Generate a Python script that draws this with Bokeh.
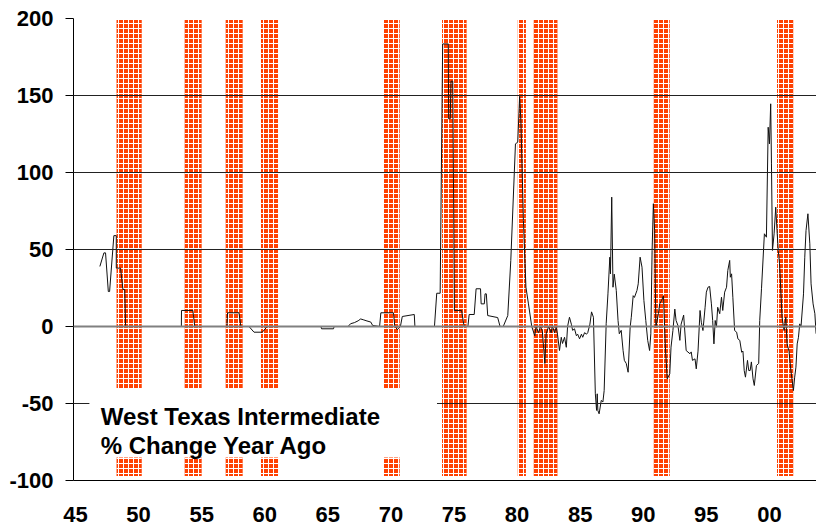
from bokeh.plotting import figure
from bokeh.models import Range1d, FixedTicker, Span, BoxAnnotation, Label
from bokeh.embed import file_html
from bokeh.resources import INLINE

# Recession periods (years since 1900)
rec_start = [48.25, 53.65, 56.9, 59.7, 69.45, 74.05, 80.05, 81.3, 90.8, 100.6]
rec_end   = [50.25, 55.0, 58.25, 61.05, 70.7, 76.0, 80.7, 83.2, 92.1, 101.9]

# WTI % change year ago
years = [46.93, 47.25, 47.38, 47.6, 47.7, 48.04, 48.23, 48.23, 48.57, 48.76, 48.9, 48.97,
         53.39, 53.4, 54.3, 54.45, 57.0, 57.05, 57.96, 58.1, 58.75, 59.15, 59.8, 60.2,
         64.45, 64.5, 65.45, 65.5, 66.6, 66.8, 67.1, 67.4, 67.6, 67.8, 68.1, 68.4, 68.55,
         69.1, 69.2, 70.2, 70.3, 70.5, 70.75, 70.9, 71.85, 71.9, 73.45, 73.63, 73.9,
         74.1, 74.55, 74.57, 74.7, 74.76, 74.9, 75.03, 75.6, 75.8, 76.1, 76.2, 76.6,
         76.75, 77.1, 77.15, 77.4, 77.46, 77.56, 77.67, 78.46, 78.65, 78.9, 79.26, 79.5,
         79.87, 80.05, 80.2, 80.3, 80.5, 80.7, 80.9, 81.16, 81.4, 81.5, 81.7, 81.85,
         82.0, 82.2, 82.3, 82.5, 82.7, 82.8, 82.96, 83.1, 83.2, 83.36, 83.5, 83.6,
         83.76, 83.9, 84.0, 84.15, 84.3, 84.4, 84.55, 84.7, 84.8, 84.95, 85.1, 85.2,
         85.35, 85.5, 85.6, 85.77, 85.9, 86.05, 86.2, 86.3, 86.35, 86.4, 86.5, 86.67,
         86.8, 86.9, 87.06, 87.2, 87.35, 87.4, 87.5, 87.6, 87.7, 87.86, 88.0, 88.1,
         88.25, 88.4, 88.5, 88.65, 88.8, 88.96, 89.05, 89.2, 89.3, 89.5, 89.6, 89.75,
         89.9, 90.05, 90.2, 90.35, 90.5, 90.6, 90.7, 90.8, 90.9, 91.0, 91.2, 91.3,
         91.45, 91.6, 91.75, 91.9, 92.1, 92.2, 92.35, 92.5, 92.6, 92.75, 92.9, 93.0,
         93.2, 93.4, 93.7, 93.8, 93.9, 94.1, 94.2, 94.34, 94.5, 94.6, 94.73, 94.9,
         95.0, 95.13, 95.26, 95.4, 95.5, 95.6, 95.7, 95.8, 95.9, 96.06, 96.2, 96.3,
         96.45, 96.6, 96.7, 96.85, 96.9, 97.0, 97.1, 97.24, 97.4, 97.5, 97.65, 97.8,
         97.9, 98.0, 98.1, 98.26, 98.36, 98.47, 98.57, 98.7, 98.8, 98.97, 99.15, 99.23,
         99.37, 99.6, 99.76, 99.9, 100.0, 100.1, 100.16, 100.24, 100.37, 100.5, 100.6,
         100.7, 100.8, 100.9, 101.0, 101.16, 101.3, 101.4, 101.55, 101.7, 101.8, 101.9,
         102.0, 102.1, 102.2, 102.3, 102.4, 102.5, 102.7, 102.8, 102.9, 103.05, 103.2,
         103.3, 103.46, 103.6, 103.7]
pct = [39, 47.8, 47.8, 22.7, 22.7, 59, 59, 37.9, 37.9, 24, 24, 0,
       0, 10.4, 10.4, 0, 0, 8.9, 8.9, 0, 0, -3.7, -3.7, 0,
       0, -1.5, -1.5, 0, 0, 1.8, 2.5, 3.7, 4.9, 4.4, 3.6, 2.9, 0.7,
       0, 8.9, 8.9, 0.5, -2, 0, 6.5, 7.8, 0, 0, 21.6, 21.6,
       183.5, 183.5, 134.9, 134.9, 159.3, 159.3, 10.4, 10.4, 0, 0, 7.8, 7.8,
       24.5, 24.5, 14.7, 14.7, 21.2, 21.2, 7.1, 5.8, 0, 0, 7.1, 42.9,
       118.6, 119.7, 149.4, 133.8, 68.8, 25.5, 14.7, 0, -6, 0, -4, 0,
       -3, -24, -4.8, 0, -4, 0.5, -4, -0.5, -5, -15.6, -7, -11,
       -7, -13.5, 0, 6, 1.5, -2.5, -1.5, -6, -5, -8, -5, -7,
       -4, -5, -4, 1.5, 9.5, 6, -43.7, -54.5, -43.7, -54.5, -56.7, -48,
       -49, -41.6, 1.8, 21.2, 45, 34.2, 84, 25.5, 34, 23.4, 3.9, -4.7,
       -2.5, -15.6, -22, -24, -29.7, -0.4, 6, 20, 18.9, 23.4, 27.7, 45,
       38.5, 16.9, 3.9, -9, -15.6, -4.7, 49.4, 79.7, 62.3, -0.4, 8.3, 14.7,
       16.9, 20, -13.4, -34, -30.7, -13.4, -2.6, 11.3, 3.9, 0.6, -9, 1.5,
       7.4, -15.6, -17.7, -16.5, -22, -21, -27.5, -16, 10.4, 2.8, -2.6, 12.5,
       22.3, 25.5, 26, 14.7, 3.9, -11.3, 3.9, -0.4, 12.5, 8.3, 19, 10.4,
       22.3, 25.5, 36.4, 42.9, 32, 34.2, 19, -2.6, -3.7, -8, -9, -16.7,
       -16, -28.6, -32.9, -22, -28.6, -28.6, -23, -34, -38.3, -25.3, -24, 3.9,
       24.5, 60.2, 58, 129.4, 118.6, 144.6, 105.6, 49.4, 60.2, 77.5, 62.3,
       49.4, 40.7, 23.4, 6, -2.6, 6, -11.3, -16, -28.6, -35, -41.6,
       -32.9, -26.4, -11.3, -7, 1.7, -0.4, 21.2, 45, 62.3, 73.2, 53.7,
       27.7, 14.7, 8.3, -4.7]

x_ticks = [45, 50, 55, 60, 65, 70, 75, 80, 85, 90, 95, 100]
x_labels = ["45", "50", "55", "60", "65", "70", "75", "80", "85", "90", "95", "00"]
y_ticks = [-100, -50, 0, 50, 100, 150, 200]
y_labels = ["-100", "-50", "0", "50", "100", "150", "200"]
title_lines = ["West Texas Intermediate", "% Change Year Ago"]

FONT = "Liberation Sans"

p = figure(width=816, height=532, output_backend="svg", toolbar_location=None,
           x_range=Range1d(44.84, 103.73), y_range=Range1d(-100, 200),
           min_border_left=73, min_border_right=0, min_border_top=18, min_border_bottom=52)
p.outline_line_color = None
p.background_fill_color = "white"

# recession bars
p.quad(left=rec_start, right=rec_end, bottom=-97, top=199,
       fill_color="#FF4000", line_color=None,
       hatch_pattern="cross", hatch_color="white", hatch_scale=5, hatch_weight=1, hatch_alpha=1.0)

# data line
p.line(years, pct, line_color="#111111", line_width=1)

# axes
p.xaxis.ticker = FixedTicker(ticks=x_ticks)
p.xaxis.major_label_overrides = {t: l for t, l in zip(x_ticks, x_labels)}
p.xaxis.major_tick_out = 0
p.xaxis.major_tick_in = 0
p.xaxis.minor_tick_out = 0
p.xaxis.minor_tick_in = 0
p.xaxis.axis_line_color = "black"
p.xaxis.major_label_standoff = 26
p.yaxis.ticker = FixedTicker(ticks=y_ticks)
p.yaxis.major_label_overrides = {t: l for t, l in zip(y_ticks, y_labels)}
p.yaxis.major_tick_out = 8
p.yaxis.major_tick_in = 0
p.yaxis.minor_tick_out = 0
p.yaxis.minor_tick_in = 0
p.yaxis.axis_line_color = "black"
p.yaxis.major_tick_line_color = "black"
p.yaxis.major_label_standoff = 12
for ax in (p.xaxis, p.yaxis):
    ax.major_label_text_font = FONT
    ax.major_label_text_font_style = "bold"
    ax.major_label_text_font_size = "22px"
    ax.major_label_text_color = "black"

p.xgrid.visible = False
p.ygrid.ticker = FixedTicker(ticks=y_ticks)
p.ygrid.grid_line_color = "#222222"
p.ygrid.grid_line_width = 1
p.ygrid.level = "guide"

p.add_layout(Span(location=0, dimension="width", line_color="#808080", line_width=2, level="guide"))

# label box
p.add_layout(BoxAnnotation(left=46.1, right=73.65, bottom=-85, top=-40,
                           fill_color="white", fill_alpha=1.0, line_color=None))
for i, t in enumerate(title_lines):
    p.add_layout(Label(x=47.0, y=-58.4 - 18.9 * i, text=t, text_font=FONT,
                       text_font_style="bold", text_font_size="24px", text_color="black",
                       text_baseline="alphabetic"))

open("out.html", "w").write(file_html(p, INLINE))
